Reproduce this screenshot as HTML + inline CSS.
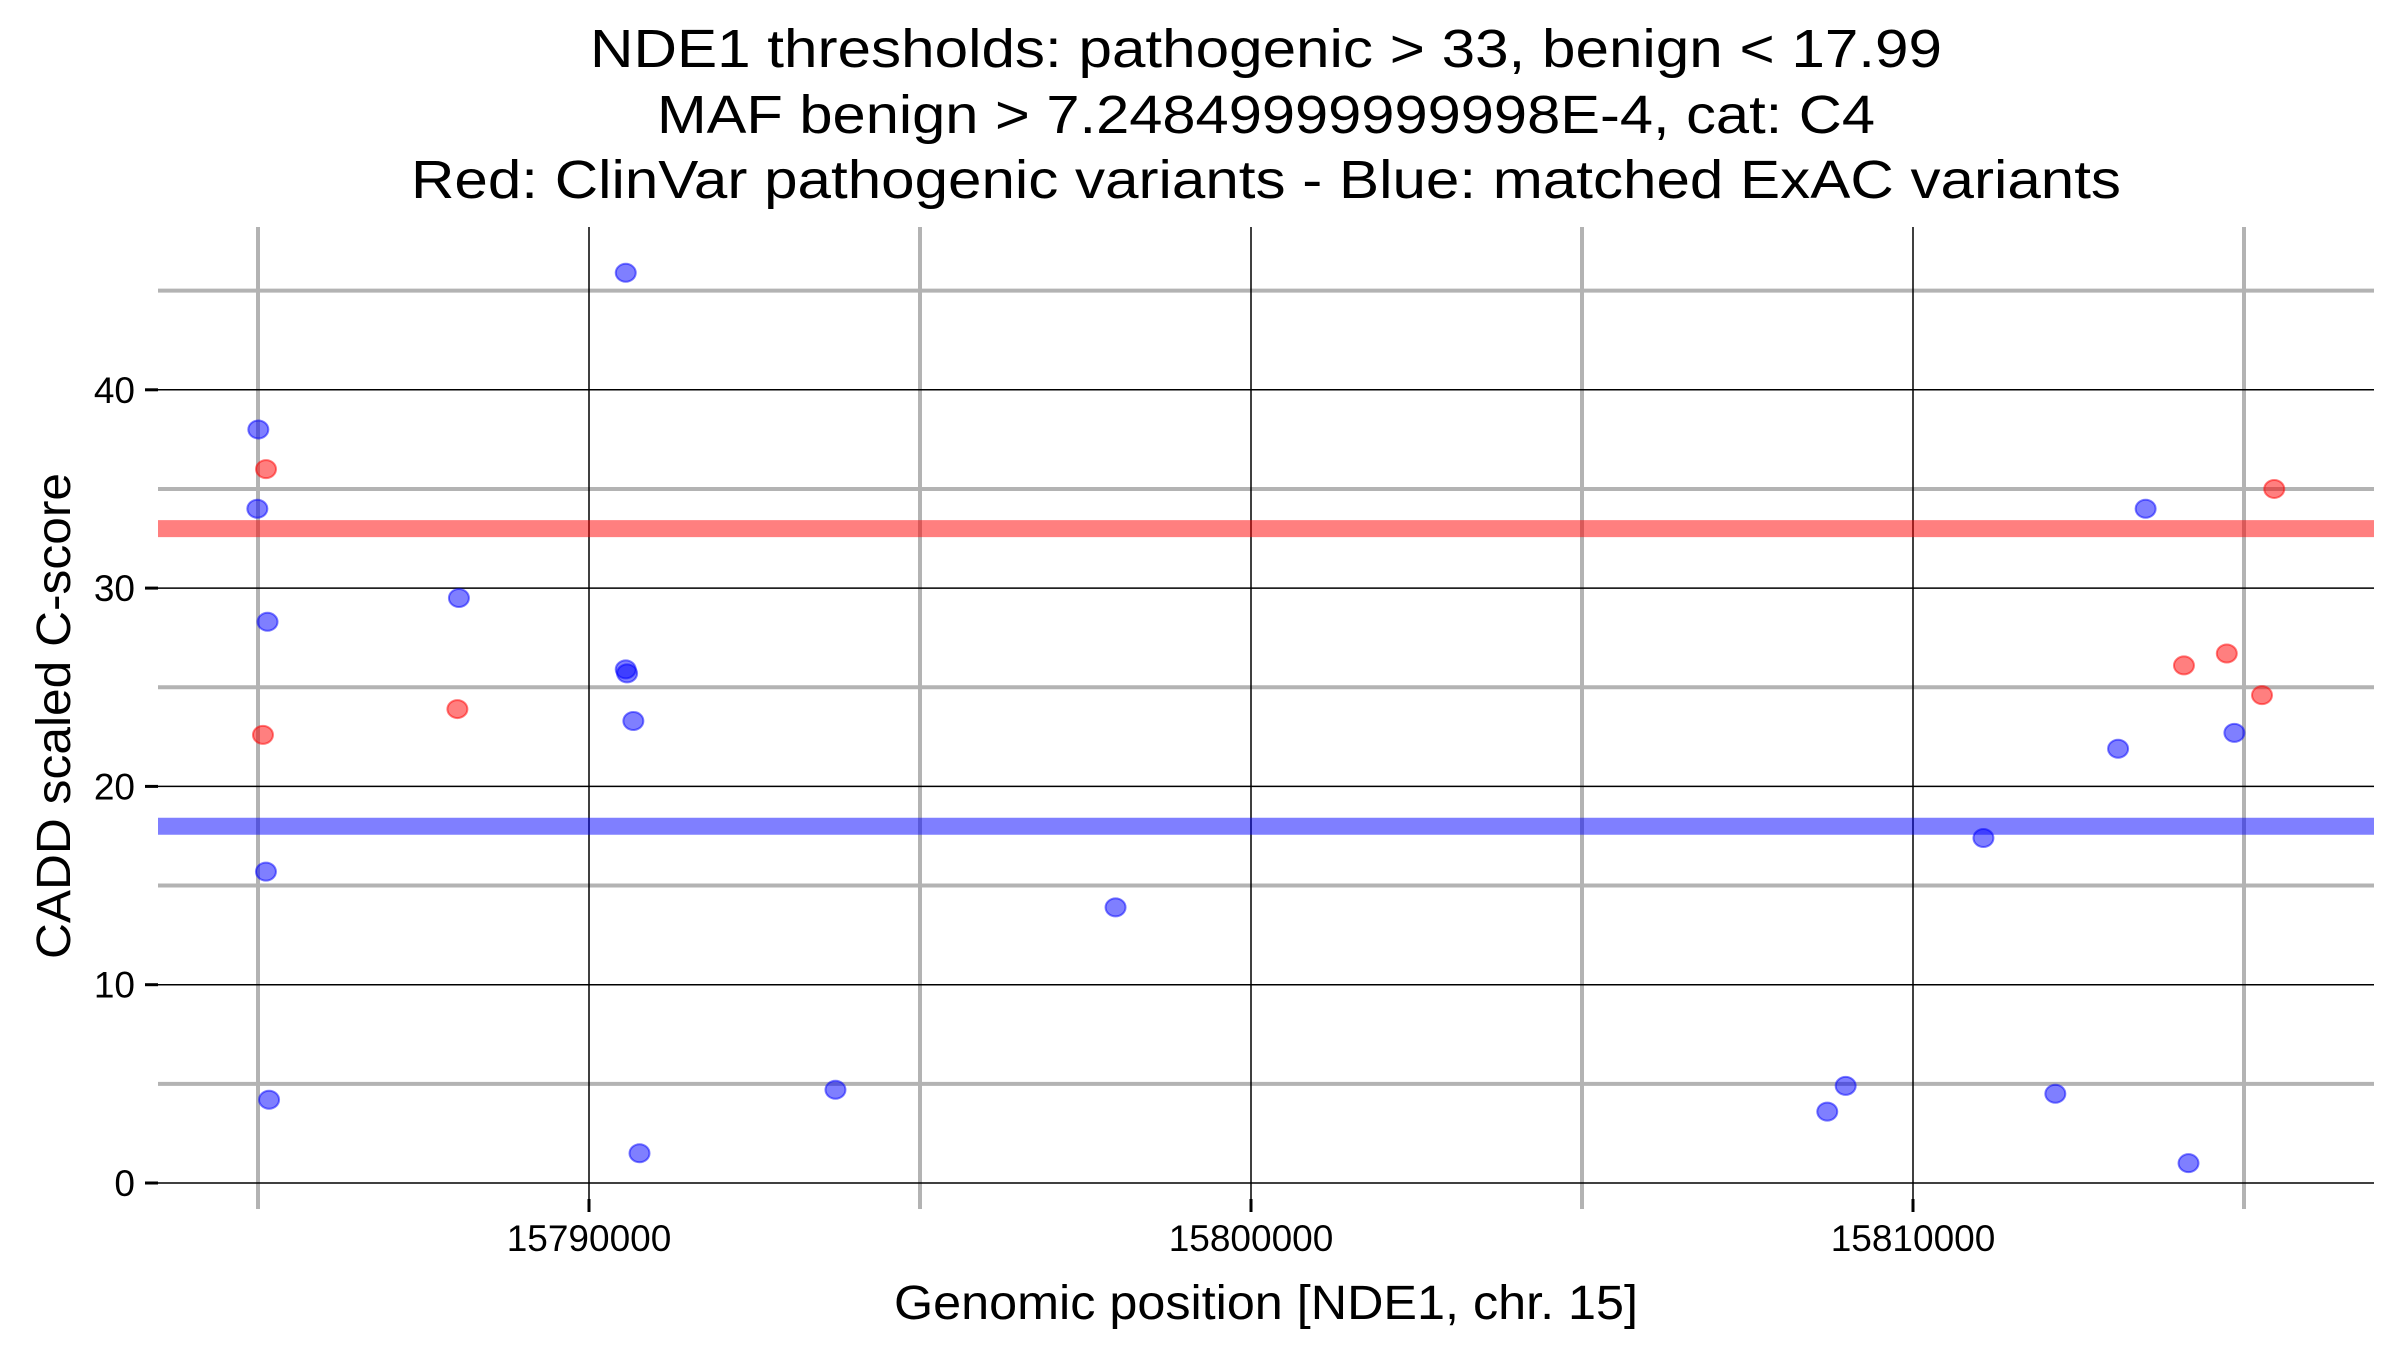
<!DOCTYPE html>
<html><head><meta charset="utf-8"><style>html,body{margin:0;padding:0;background:#fff}svg{display:block}text{font-family:"Liberation Sans",Arial,sans-serif;fill:#000}</style></head>
<body>
<svg id="chart" width="2400" height="1350" viewBox="0 0 2400 1350" xmlns="http://www.w3.org/2000/svg">
<g>
<text x="1266" y="67" font-size="54" text-anchor="middle" textLength="1352" lengthAdjust="spacingAndGlyphs">NDE1 thresholds: pathogenic &gt; 33, benign &lt; 17.99</text>
<text x="1266" y="133" font-size="54" text-anchor="middle" textLength="1218" lengthAdjust="spacingAndGlyphs">MAF benign &gt; 7.24849999999998E-4, cat: C4</text>
<text x="1266" y="198" font-size="54" text-anchor="middle" textLength="1710" lengthAdjust="spacingAndGlyphs">Red: ClinVar pathogenic variants - Blue: matched ExAC variants</text>
</g>
<g id="grid"></g>
<g id="thresholds"></g>
<g id="points"></g>
<g id="axes"></g>
<text x="1266" y="1319" font-size="48" text-anchor="middle" textLength="744" lengthAdjust="spacingAndGlyphs">Genomic position [NDE1, chr. 15]</text>
<text transform="translate(70,716) rotate(-90)" font-size="48" text-anchor="middle" textLength="486" lengthAdjust="spacingAndGlyphs">CADD scaled C-score</text>
</svg>
<script>
const xMajorTicks = [15790000, 15800000, 15810000];
const xMinorTicks = [15785000, 15795000, 15805000, 15815000];
const yMajorTicks = [0, 10, 20, 30, 40];
const yMinorTicks = [5, 15, 25, 35, 45];
const pathogenicThreshold = 33;
const benignThreshold = 17.99;
const blueX = [15785005, 15784990, 15785144, 15785120, 15785167, 15788035, 15790555, 15790555, 15790575, 15790670, 15790763, 15793723, 15797954, 15808705, 15808983, 15811064, 15812150, 15813098, 15813514, 15814162, 15814855];
const blueY = [38.0, 34.0, 28.3, 15.7, 4.2, 29.5, 45.9, 25.9, 25.7, 23.3, 1.5, 4.7, 13.9, 3.6, 4.9, 17.4, 4.5, 21.9, 34.0, 1.0, 22.7];
const redX = [15785121, 15785075, 15788012, 15814093, 15814740, 15815272, 15815457];
const redY = [36.0, 22.6, 23.9, 26.1, 26.7, 24.6, 35.0];

const NS = "http://www.w3.org/2000/svg";
const L = 158, R = 2374, T = 227, B = 1209;
function xs(v){ return 589 + (v - 15790000) * 0.0662; }
function ys(v){ return 1183 - v * 19.83; }
function mk(tag, attrs, parent){ const e = document.createElementNS(NS, tag); for (const k in attrs) e.setAttribute(k, attrs[k]); parent.appendChild(e); return e; }

const grid = document.getElementById('grid');
yMinorTicks.forEach(v => {
  const l = mk('line', {x1:L, x2:R, y1:ys(v), y2:ys(v), stroke:'#b3b3b3', 'stroke-width':4}, grid);
  
  
});
xMinorTicks.forEach(v => {
  const l = mk('line', {x1:xs(v), x2:xs(v), y1:T, y2:B, stroke:'#b3b3b3', 'stroke-width':4}, grid);
  
  
});
yMajorTicks.forEach(v => {
  const l = mk('line', {x1:L, x2:R, y1:ys(v), y2:ys(v), stroke:'#000', 'stroke-width':1.5}, grid);
  
  
});
xMajorTicks.forEach(v => {
  const l = mk('line', {x1:xs(v), x2:xs(v), y1:T, y2:B, stroke:'#000', 'stroke-width':1.5}, grid);
  
  
});

const th = document.getElementById('thresholds');
const pl = mk('line', {x1:L, x2:R, y1:ys(pathogenicThreshold), y2:ys(pathogenicThreshold), stroke:'rgba(255,0,0,0.5)', 'stroke-width':17}, th);


const bl = mk('line', {x1:L, x2:R, y1:ys(benignThreshold), y2:ys(benignThreshold), stroke:'rgba(0,0,255,0.5)', 'stroke-width':17}, th);



const pts = document.getElementById('points');
blueX.forEach((x, i) => {
  const c = mk('ellipse', {cx:xs(x), cy:ys(blueY[i]), rx:10, ry:9, fill:'rgba(0,0,255,0.5)', stroke:'rgba(0,0,255,0.5)', 'stroke-width':2}, pts);
  
  
});
redX.forEach((x, i) => {
  const c = mk('ellipse', {cx:xs(x), cy:ys(redY[i]), rx:10, ry:9, fill:'rgba(255,0,0,0.5)', stroke:'rgba(255,0,0,0.5)', 'stroke-width':2}, pts);
  
  
});

const ax = document.getElementById('axes');
yMajorTicks.forEach(v => {
  const t = mk('line', {x1:145, x2:158, y1:ys(v), y2:ys(v), stroke:'#000', 'stroke-width':3}, ax);
  
  
  const lb = mk('text', {x:135, y:ys(v)+13, 'font-size':37, 'text-anchor':'end'}, ax);
  lb.textContent = v;
  
  
});
xMajorTicks.forEach(v => {
  const t = mk('line', {x1:xs(v), x2:xs(v), y1:1199, y2:1212, stroke:'#000', 'stroke-width':3}, ax);
  
  
  const lb = mk('text', {x:xs(v), y:1251, 'font-size':37, 'text-anchor':'middle'}, ax);
  lb.textContent = v;
  
  
});
</script>
</body></html>
